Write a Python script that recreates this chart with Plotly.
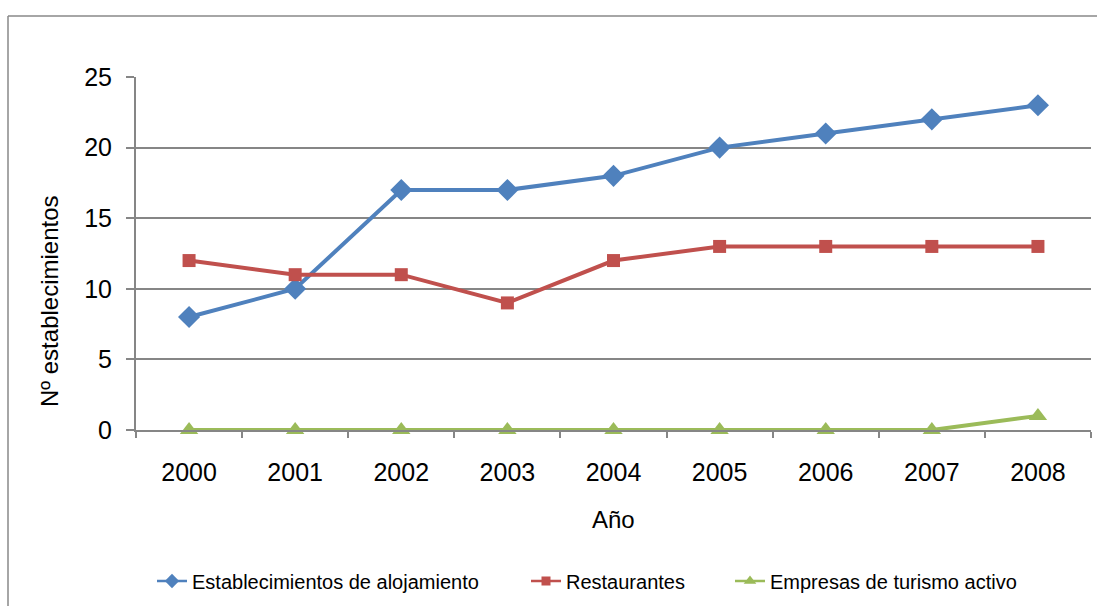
import plotly.graph_objects as go

years = ["2000", "2001", "2002", "2003", "2004", "2005", "2006", "2007", "2008"]
alojamiento = [8, 10, 17, 17, 18, 20, 21, 22, 23]
restaurantes = [12, 11, 11, 9, 12, 13, 13, 13, 13]
turismo_activo = [0, 0, 0, 0, 0, 0, 0, 0, 1]

series = [
    ("Establecimientos de alojamiento", alojamiento, "#4F81BD", "diamond", 17, 11, "legend", 192),
    ("Restaurantes", restaurantes, "#C0504D", "square", 13, 9, "legend2", 566),
    ("Empresas de turismo activo", turismo_activo, "#9BBB59", "triangle-up", 16, 11, "legend3", 770),
]

W, H = 1097, 606
L, R, T, B = 136, 6, 77, 176
pw, ph = W - L - R, H - T - B
FONT = "Liberation Sans, Arial, sans-serif"

fig = go.Figure()
for name, vals, color, sym, size, lsize, lg, tx in series:
    fig.add_trace(go.Scatter(
        x=years, y=vals, name=name, mode="lines+markers",
        line=dict(color=color, width=4),
        marker=dict(symbol=sym, size=size, color=color),
        cliponaxis=False, showlegend=False,
    ))
# legend entries (thin line + small marker, as in the reference legend)
legends = {}
for name, vals, color, sym, size, lsize, lg, tx in series:
    fig.add_trace(go.Scatter(
        x=[None], y=[None], name=name, mode="lines+markers",
        line=dict(color=color, width=2.5),
        marker=dict(symbol=sym, size=lsize, color=color),
        showlegend=True, legend=lg,
    ))
    legends[lg] = dict(orientation="h", x=(tx - 40 - L) / pw, xanchor="left",
                       y=-(581 - 430) / ph, yanchor="middle",
                       font=dict(size=20), itemsizing="trace",
                       bgcolor="rgba(0,0,0,0)", borderwidth=0)

fig.update_layout(
    width=W, height=H,
    margin=dict(l=L, r=R, t=T, b=B),
    paper_bgcolor="white", plot_bgcolor="white",
    font=dict(family=FONT, color="black"),
    showlegend=True,
    xaxis=dict(
        type="category", range=[-0.5, 8.5], tickson="boundaries",
        ticks="outside", ticklen=6, tickcolor="#868686", tickwidth=2,
        showline=True, linecolor="#868686", linewidth=2,
        showgrid=False, tickfont=dict(size=25), ticklabelstandoff=19,
    ),
    yaxis=dict(
        range=[0, 25], dtick=5, ticks="outside", ticklen=8, tickcolor="#868686", tickwidth=2,
        showline=True, linecolor="#868686", linewidth=2,
        showgrid=True, gridcolor="#868686", gridwidth=1.5,
        zeroline=False, tickfont=dict(size=25), ticklabelstandoff=9,
    ),
    annotations=[
        dict(text="Año", xref="paper", yref="paper", x=0.5, y=-(519 - 430) / ph,
             xanchor="center", yanchor="middle", showarrow=False, font=dict(size=24)),
        dict(text="Nº establecimientos", xref="paper", yref="paper", x=(49 - L) / pw,
             y=1 - (301 - T) / ph, xanchor="center", yanchor="middle", textangle=-90,
             showarrow=False, font=dict(size=24)),
    ],
    **legends,
)

# outer chart border (left and top edges visible)
x0 = (8 - L) / pw
y1 = 1 + (T - 16) / ph
fig.add_shape(type="line", xref="paper", yref="paper", x0=x0, x1=x0, y0=-(B) / ph, y1=y1,
              line=dict(color="#888888", width=1.5))
fig.add_shape(type="line", xref="paper", yref="paper", x0=x0, x1=1 + R / pw, y0=y1, y1=y1,
              line=dict(color="#888888", width=1.5))

fig.write_html("out.html", config={"displayModeBar": False},
               post_script="document.body.style.margin='0';")
